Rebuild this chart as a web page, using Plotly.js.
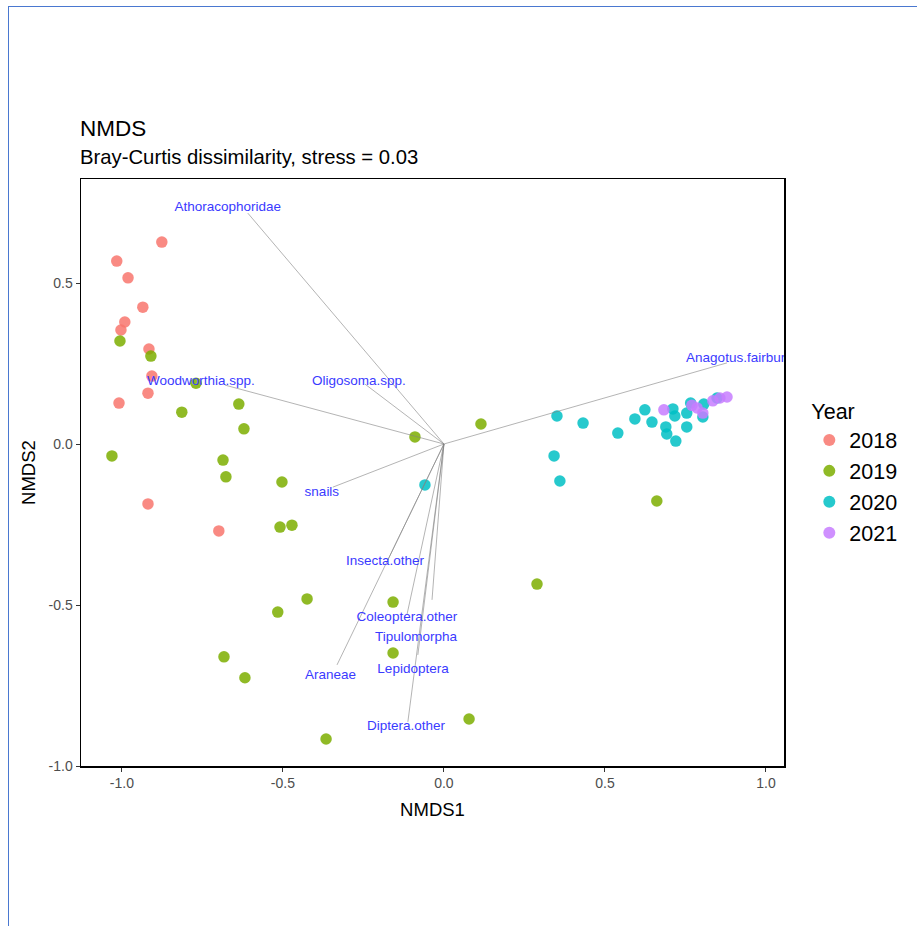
<!DOCTYPE html>
<html>
<head>
<meta charset="utf-8">
<script src="https://cdn.plot.ly/plotly-3.0.1.min.js"></script>
<style>
html,body{margin:0;padding:0;background:#fff;}
#frame{position:absolute;left:0;top:0;width:917px;height:926px;}
#bl{position:absolute;left:8px;top:6px;width:1px;height:920px;background:#4a78d0;}
#bt{position:absolute;left:8px;top:6px;width:909px;height:1px;background:#4a78d0;}
#chart{position:absolute;left:0;top:0;width:917px;height:926px;}
</style>
</head>
<body>
<div id="frame"><div id="chart"></div><div id="bl"></div><div id="bt"></div></div>
<script>
// Site scores by year
var x2018 = [-0.876, -1.016, -0.981, -0.935, -0.991, -1.003, -0.916, -0.907, -0.919, -1.009, -0.919, -0.699];
var y2018 = [0.627, 0.568, 0.516, 0.425, 0.379, 0.354, 0.295, 0.211, 0.158, 0.127, -0.186, -0.270];

var x2019 = [-1.006, -0.910, -0.770, -0.814, -0.637, -0.621, -1.031, -0.686, -0.677, -0.503, -0.509, -0.472, -0.425, -0.516, -0.683, -0.618, -0.158, -0.158, 0.078, -0.366, 0.289, -0.090, 0.115, 0.661];
var y2019 = [0.320, 0.273, 0.189, 0.099, 0.124, 0.047, -0.037, -0.050, -0.102, -0.118, -0.258, -0.252, -0.481, -0.522, -0.661, -0.726, -0.491, -0.649, -0.854, -0.916, -0.435, 0.022, 0.062, -0.177];

var x2020 = [-0.059, 0.351, 0.432, 0.342, 0.360, 0.540, 0.593, 0.624, 0.646, 0.689, 0.692, 0.720, 0.711, 0.717, 0.754, 0.754, 0.766, 0.804, 0.807, 0.848];
var y2020 = [-0.127, 0.087, 0.065, -0.037, -0.115, 0.034, 0.078, 0.106, 0.068, 0.053, 0.031, 0.009, 0.109, 0.087, 0.053, 0.096, 0.127, 0.084, 0.124, 0.143];

var x2021 = [0.683, 0.786, 0.804, 0.835, 0.857, 0.879, 0.770];
var y2021 = [0.106, 0.112, 0.096, 0.134, 0.143, 0.146, 0.120];

var years = ['2018', '2019', '2020', '2021'];
var yearColors = ['#F8766D', '#7CAE00', '#00BFC4', '#C77CFF'];

// Species vectors (endpoints) and label positions
var vecNames = ['Athoracophoridae', 'Woodworthia.spp.', 'Oligosoma.spp.', 'snails', 'Insecta.other', 'Araneae', 'Coleoptera.other', 'Tipulomorpha', 'Lepidoptera', 'Diptera.other', 'Anagotus.fairburni'];
var vecX = [-0.609, -0.680, -0.245, -0.345, -0.174, -0.332, -0.115, -0.037, -0.081, -0.112, 0.879];
var vecY = [0.717, 0.183, 0.186, -0.134, -0.360, -0.686, -0.531, -0.484, -0.655, -0.863, 0.252];
var labX = [-0.671, -0.755, -0.264, -0.379, -0.183, -0.352, -0.115, -0.087, -0.096, -0.118, 0.752];
var labY = [0.733, 0.193, 0.193, -0.152, -0.366, -0.720, -0.540, -0.602, -0.702, -0.879, 0.264];
var labPos = ['middle center', 'middle center', 'middle center', 'middle center', 'middle center', 'middle center', 'middle center', 'middle center', 'middle center', 'middle center', 'middle right'];

var xs = [x2018, x2019, x2020, x2021];
var ys = [y2018, y2019, y2020, y2021];
var traces = [];
for (var i = 0; i < years.length; i++) {
  traces.push({
    type: 'scatter', mode: 'markers', name: years[i],
    x: xs[i], y: ys[i],
    marker: {color: yearColors[i], size: 11.5, opacity: 0.85, line: {width: 0}},
    cliponaxis: true
  });
}
// vector lines
var lx = [], ly = [];
for (var j = 0; j < vecNames.length; j++) {
  lx.push(0, vecX[j], null);
  ly.push(0, vecY[j], null);
}
traces.push({
  type: 'scatter', mode: 'lines', x: lx, y: ly, showlegend: false, hoverinfo: 'skip',
  line: {color: 'rgba(130,130,130,0.6)', width: 1}
});
traces.push({
  type: 'scatter', mode: 'text', x: labX, y: labY, text: vecNames, textposition: labPos,
  showlegend: false, cliponaxis: true,
  textfont: {family: 'Liberation Sans, Arial, sans-serif', size: 13.5, color: '#3a3aff'}
});

var layout = {
  width: 917, height: 926,
  paper_bgcolor: '#ffffff', plot_bgcolor: '#ffffff',
  margin: {l: 81, r: 133, t: 179, b: 160},
  font: {family: 'Liberation Sans, Arial, sans-serif', color: '#000'},
  title: {
    text: 'NMDS', x: 80/917, xanchor: 'left', xref: 'container',
    y: 1 - 128/926, yanchor: 'middle', yref: 'container',
    font: {size: 22.5, color: '#000'}
  },
  annotations: [{
    text: 'Bray-Curtis dissimilarity, stress = 0.03',
    xref: 'paper', yref: 'paper', x: -3/703, y: 1 + (179-157)/586,
    xanchor: 'left', yanchor: 'middle', showarrow: false,
    font: {size: 20.3, color: '#000'}
  }],
  xaxis: {
    range: [-1.127, 1.056], zeroline: false, showgrid: false,
    tickvals: [-1, -0.5, 0, 0.5, 1], ticktext: ['-1.0', '-0.5', '0.0', '0.5', '1.0'],
    ticks: 'outside', ticklen: 4, tickcolor: '#333', tickwidth: 1,
    tickfont: {size: 14, color: '#4d4d4d'},
    showline: true, linecolor: '#000', linewidth: 1.5, mirror: true,
    title: {text: 'NMDS1', font: {size: 18.5, color: '#000'}, standoff: 13}
  },
  yaxis: {
    range: [-1.0, 0.823], zeroline: false, showgrid: false,
    tickvals: [-1, -0.5, 0, 0.5], ticktext: ['-1.0', '-0.5', '0.0', '0.5'],
    ticks: 'outside', ticklen: 4, tickcolor: '#333', tickwidth: 1,
    tickfont: {size: 14, color: '#4d4d4d'},
    showline: true, linecolor: '#000', linewidth: 1.5, mirror: true,
    title: {text: 'NMDS2', font: {size: 18.5, color: '#000'}, standoff: 8}
  },
  legend: {
    x: 1.036, xanchor: 'left', y: 0.638, yanchor: 'top',
    title: {text: 'Year', font: {size: 21.5, color: '#000'}},
    font: {size: 21.5, color: '#000'},
    itemsizing: 'constant', tracegroupgap: 0
  },
  showlegend: true
};

Plotly.newPlot('chart', traces, layout, {displayModeBar: false, staticPlot: true});
</script>
</body>
</html>
